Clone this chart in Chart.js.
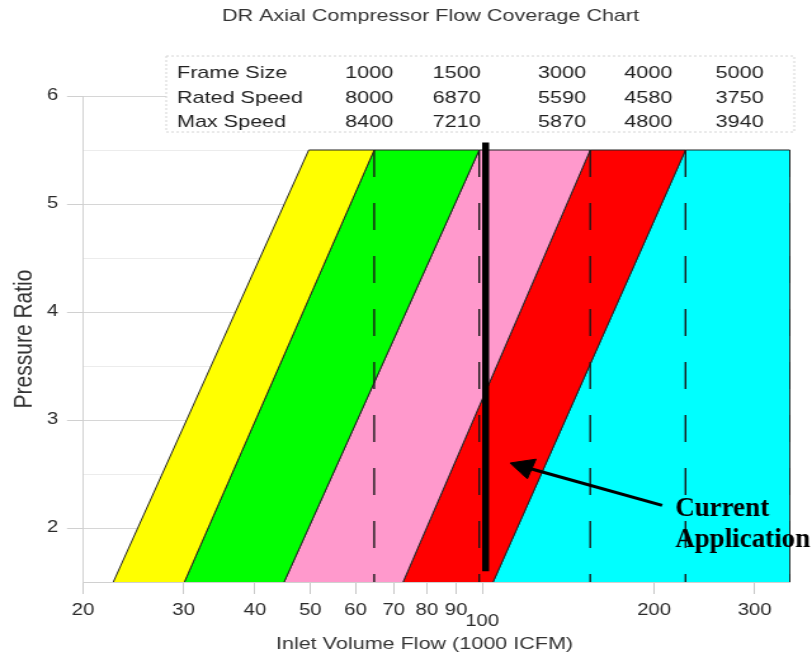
<!DOCTYPE html>
<html>
<head>
<meta charset="utf-8">
<script src="https://cdn.jsdelivr.net/npm/chart.js@4.4.0/dist/chart.umd.min.js"></script>
<style>
  body { margin: 0; background: #fff; }
  canvas { display: block; }
</style>
</head>
<body>
<!-- the source picture is stretched sideways, so draw narrow and stretch with css -->
<canvas id="flowChart" width="640" height="657" style="width:812px;height:657px"></canvas>
<script>
"use strict"

// speed table in the top box
const tableRows = ['Frame Size', 'Rated Speed', 'Max Speed'];
const frameSizes = [1000, 1500, 3000, 4000, 5000];
const ratedSpeeds = [8000, 6870, 5590, 4580, 3750];
const maxSpeeds = [8400, 7210, 5870, 4800, 3940];

// band edges (1000 ICFM) at the low and high pressure ratio
const pressureRange = [1.5, 5.5];
const edgesLow = [22.6, 30.1, 45.0, 72.7, 104.5, 346];
const edgesHigh = [49.7, 64.7, 98.8, 154.6, 227, 346];

// current application marker and arrow
const currentFlow = 101.4;
const currentRange = [1.6, 5.57];
const arrowTail = [206.6, 2.21];
const arrowHead = [118.6, 2.565];

const xTicks = [20, 30, 40, 50, 60, 70, 80, 90, 100, 200, 300];

const STRETCH = 812 / 640;
const bandColors = ['#ffff00', '#00ff00', '#ff99cc', '#ff0000', '#00ffff'];

document.addEventListener("DOMContentLoaded", () => {
  drawFlowChart();
});

const overlayPlugin = {
  id: 'overlay',
  beforeDatasetsDraw(chart) {
    const ctx = chart.ctx;
    ctx.save();
    ctx.fillStyle = '#fff';
    ctx.fillRect(131, 56, 495, 76);
    ctx.strokeStyle = '#d4d4d4';
    ctx.lineWidth = 1;
    ctx.setLineDash([2, 2]);
    ctx.strokeRect(131, 56, 495, 76);
    ctx.setLineDash([]);

    ctx.font = '17px "Liberation Sans", Arial, sans-serif';
    ctx.fillStyle = '#222';
    const colX = [291, 360, 443, 511, 583];
    const rows = [frameSizes, ratedSpeeds, maxSpeeds];
    rows.forEach((vals, r) => {
      const y = 78 + r * 24.5;
      ctx.textAlign = 'left';
      ctx.fillText(tableRows[r], 139.5, y);
      ctx.textAlign = 'center';
      vals.forEach((v, i) => ctx.fillText(String(v), colX[i], y));
    });
    ctx.restore();
  },
  afterDatasetsDraw(chart) {
    const ctx = chart.ctx;
    const x = chart.scales.x.getPixelForValue(arrowTail[0]);
    const y = chart.scales.y.getPixelForValue(arrowTail[1]);
    ctx.save();
    // the label was added on top of the stretched picture, so undo the stretch
    ctx.scale(1 / STRETCH, 1);
    ctx.font = 'bold 27px "Liberation Serif", "Times New Roman", serif';
    ctx.fillStyle = '#000';
    ctx.textAlign = 'left';
    ctx.fillText('Current', x * STRETCH + 13, y + 11);
    ctx.fillText('Application', x * STRETCH + 13, y + 42);
    ctx.restore();
  }
};

function drawFlowChart() {
  Chart.defaults.font.family = '"Liberation Sans", Arial, sans-serif';
  Chart.defaults.color = '#333';

  const low = pressureRange[0], high = pressureRange[1];
  const datasets = [];

  // colored frame bands
  for (let i = 0; i < bandColors.length; i++) {
    datasets.push({
      data: [
        {x: edgesLow[i], y: low},
        {x: edgesHigh[i], y: high},
        {x: edgesHigh[i + 1], y: high},
        {x: edgesLow[i + 1], y: low},
        {x: edgesLow[i], y: low}
      ],
      backgroundColor: bandColors[i],
      borderColor: '#222',
      borderWidth: 1,
      fill: 'shape',
      pointRadius: 0,
      order: 4,
      segment: {
        borderColor: c => (c.p0.parsed.y === low && c.p1.parsed.y === low) ? 'rgba(0,0,0,0)' : undefined
      }
    });
  }

  // dashed max flow lines
  edgesHigh.slice(1).forEach(v => {
    datasets.push({
      data: [{x: v, y: high}, {x: v, y: low}],
      borderColor: '#1a1a1a',
      borderWidth: 1.4,
      borderDash: [27, 26],
      pointRadius: 0,
      fill: false,
      order: 3
    });
  });

  datasets.push({
    data: [{x: currentFlow, y: currentRange[0]}, {x: currentFlow, y: currentRange[1]}],
    borderColor: '#000',
    borderWidth: 5.5,
    borderCapStyle: 'butt',
    pointRadius: 0,
    fill: false,
    order: 2
  });

  datasets.push({
    data: [{x: arrowTail[0], y: arrowTail[1]}, {x: arrowHead[0], y: arrowHead[1]}],
    borderColor: '#000',
    borderWidth: 3,
    pointRadius: 0,
    fill: false,
    order: 1
  });

  datasets.push({
    data: [{x: arrowHead[0], y: arrowHead[1]}],
    showLine: false,
    pointStyle: 'triangle',
    pointRadius: 12,
    pointRotation: 289.3,
    pointBackgroundColor: '#000',
    pointBorderColor: '#000',
    pointBorderWidth: 1,
    order: 0
  });

  const options = {
    type: 'line',
    data: { datasets: datasets },
    options: {
      responsive: false,
      devicePixelRatio: 1,
      animation: false,
      layout: { padding: { left: 0, right: 17.3, top: 0, bottom: 0 } },
      plugins: {
        legend: { display: false },
        tooltip: { enabled: false },
        title: {
          display: true,
          fullSize: false,
          text: 'DR Axial Compressor Flow Coverage Chart  ',
          color: '#333',
          font: { size: 17, weight: 'normal' },
          padding: { top: 5.8, bottom: 69.8 }
        }
      },
      scales: {
        x: {
          type: 'logarithmic',
          min: 20,
          max: 346,
          afterBuildTicks: s => { s.ticks = xTicks.map(v => ({value: v})); },
          afterFit: s => { s.height = 75; },
          grid: { drawOnChartArea: false, tickLength: 12, color: '#c8c8c8' },
          border: { color: '#d0d0d0' },
          ticks: {
            autoSkip: false,
            maxRotation: 0,
            padding: 7,
            color: '#2a2a2a',
            font: c => (c.tick && c.tick.value === 100) ? {size: 16, lineHeight: 0.875} : {size: 16},
            callback: v => v === 100 ? ['', '100'] : String(v)
          },
          title: {
            display: true,
            text: 'Inlet Volume Flow (1000 ICFM)    ',
            color: '#333',
            font: { size: 17 },
            padding: { top: 0, bottom: 2 }
          }
        },
        y: {
          min: 1.5,
          max: 6,
          afterFit: s => { s.width = 65.4; },
          grid: {
            tickLength: 12.6,
            color: c => (c.tick && Number.isInteger(c.tick.value)) ? '#d6d6d6' : '#ececec',
            tickColor: c => (c.tick && Number.isInteger(c.tick.value)) ? '#d0d0d0' : 'rgba(0,0,0,0)'
          },
          border: { color: '#d0d0d0' },
          ticks: {
            stepSize: 0.5,
            padding: 7,
            color: '#2a2a2a',
            font: { size: 16 },
            callback: v => Number.isInteger(v) ? String(v) : ''
          },
          title: {
            display: true,
            text: 'Pressure Ratio',
            color: '#333',
            font: { size: 21 },
            padding: { top: 7, bottom: 0 }
          }
        }
      }
    },
    plugins: [overlayPlugin]
  };
  const ctx = document.getElementById('flowChart');
  new Chart(ctx, options);
}
</script>
</body>
</html>
